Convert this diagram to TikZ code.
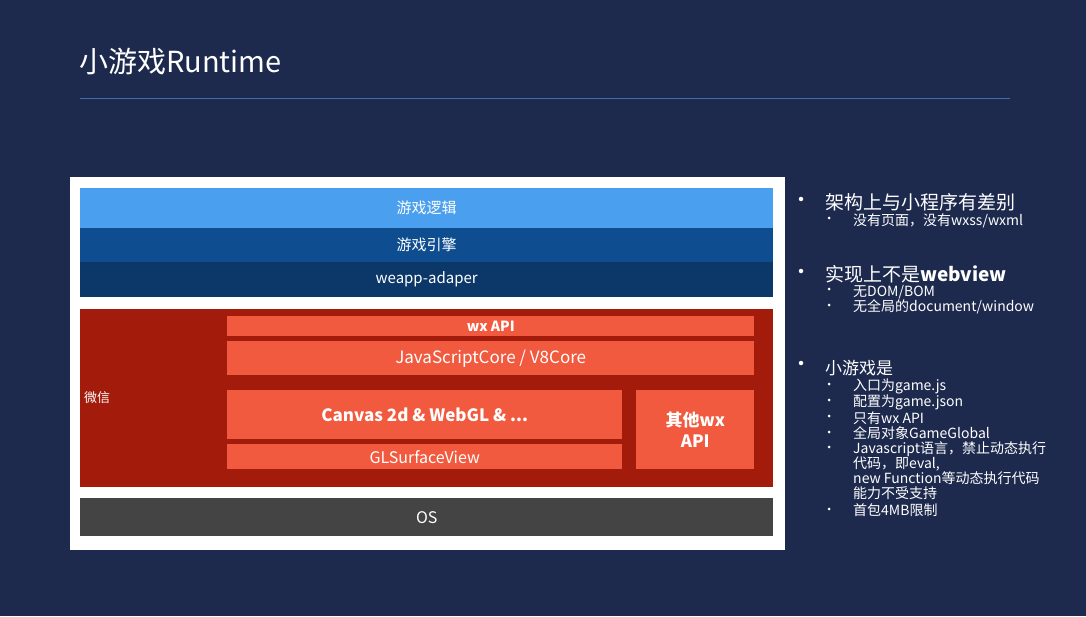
\documentclass[tikz,border=0pt]{standalone}
\usepackage{fontspec}
\setmainfont{Noto Sans CJK SC}
\begin{document}
\begin{tikzpicture}[x=1pt,y=-1pt,
  bar/.style={draw=none,anchor=north west,inner sep=0pt,text=white,font=\fontsize{15}{15}\selectfont},
  big/.style={anchor=west,text=white,inner sep=0pt,font=\fontsize{19}{19}\selectfont},
  sml/.style={anchor=west,text=white,inner sep=0pt,font=\fontsize{14}{14}\selectfont},
  dot/.style={circle,fill=white,inner sep=0pt,minimum size=4.5pt}]
\definecolor{bg}{HTML}{1D2A4E}
\definecolor{lb}{HTML}{4AA0EE}
\definecolor{mb}{HTML}{0E4E90}
\definecolor{db}{HTML}{0B3868}
\definecolor{dr}{HTML}{A31B0B}
\definecolor{or}{HTML}{F15A3E}
\definecolor{os}{HTML}{444444}
\fill[bg] (0,0) rectangle (1086,616);
\useasboundingbox (0,0) rectangle (1086,616);
\node[anchor=west,text=white,inner sep=0pt,font=\fontsize{29}{29}\selectfont] (title) at (79,62) {小游戏Runtime};
\coordinate (l1) at (80,98); \coordinate (l2) at (1010,98);
\draw[color=lb!60!bg,line width=0.8pt] (l1) -- (l2);
\fill[white] (70,177) rectangle (785,550);
\node[bar,fill=lb,minimum width=693pt,minimum height=40pt] (logic) at (80,188) {游戏逻辑};
\node[bar,fill=mb,minimum width=693pt,minimum height=34pt] (engine) at (80,228) {游戏引擎};
\node[bar,fill=db,minimum width=693pt,minimum height=35pt] (adapter) at (80,262) {weapp-adaper};
\node[bar,fill=dr,minimum width=693pt,minimum height=178pt] (wechat) at (80,309) {};
\node[anchor=west,text=white,inner sep=0pt,font=\fontsize{13}{13}\selectfont] (wx) at (84,398) {微信};
\node[bar,fill=or,minimum width=527pt,minimum height=20pt,font=\bfseries\fontsize{14}{14}\selectfont] (wxapi) at (227,316) {wx API};
\node[bar,fill=or,minimum width=527pt,minimum height=34pt,font=\fontsize{17}{17}\selectfont] (jsc) at (227,341) {JavaScriptCore / V8Core};
\node[bar,fill=or,minimum width=395pt,minimum height=49pt,font=\bfseries\fontsize{17}{17}\selectfont] (canvas) at (227,390) {Canvas 2d \& WebGL \& ...};
\node[bar,fill=or,minimum width=395pt,minimum height=25pt,font=\fontsize{16}{16}\selectfont] (gls) at (227,444) {GLSurfaceView};
\node[bar,fill=or,minimum width=118pt,minimum height=79pt,align=center,font=\bfseries\fontsize{17}{21}\selectfont] (other) at (636,390) {其他wx\\API};
\node[bar,fill=os,minimum width=693pt,minimum height=38pt,font=\fontsize{16}{16}\selectfont] (os) at (80,498) {OS};
% right list
\foreach \y in {199,271,363} \node[dot] at (801,\y) {};
\foreach \y in {218,289,305,384,400,416,432,447,509} \node[dot,minimum size=3pt] at (829,\y) {};
\node[big] at (825,202) {架构上与小程序有差别};
\node[sml] at (853,221) {没有页面，没有wxss/wxml};
\node[big] at (825,274) {实现上不是\textbf{webview}};
\node[sml] at (853,292) {无DOM/BOM};
\node[sml] at (853,307) {无全局的document/window};
\node[big,font=\fontsize{17}{17}\selectfont] at (825,368) {小游戏是};
\node[sml] at (853,386) {入口为game.js};
\node[sml] at (853,402) {配置为game.json};
\node[sml] at (853,418) {只有wx API};
\node[sml] at (853,433) {全局对象GameGlobal};
\node[sml,align=left,font=\fontsize{14}{15}\selectfont,anchor=north west] at (853,441) {Javascript语言，禁止动态执行\\代码，即eval,\\new Function等动态执行代码\\能力不受支持};
\node[sml] at (853,510) {首包4MB限制};
\end{tikzpicture}
\end{document}
